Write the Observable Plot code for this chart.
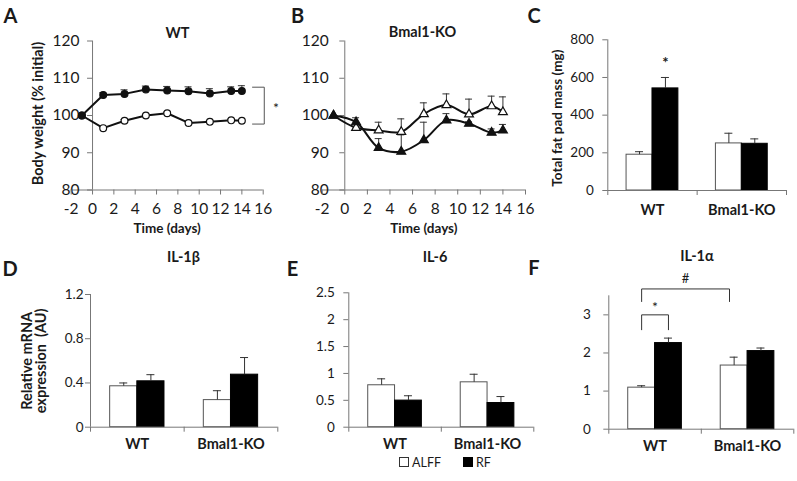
<!DOCTYPE html>
<html><head><meta charset="utf-8">
<script src="https://cdn.jsdelivr.net/npm/d3@7"></script>
<script src="https://cdn.jsdelivr.net/npm/@observablehq/plot@0.6"></script>
<style>
body{margin:0;background:#fff;}
#fig{position:relative;width:797px;height:481px;overflow:hidden;background:#fff;font-family:Lato,"DejaVu Sans",sans-serif;color:#1a1a1a;}
#fig svg{position:absolute;overflow:visible;}
.lbl{position:absolute;font-weight:bold;white-space:nowrap;transform:translate(-50%,-50%);line-height:1;}
.legend{position:absolute;left:399px;top:456px;font-size:12.5px;line-height:14px;white-space:nowrap;}
.sw{display:inline-block;width:8px;height:8px;border:1px solid #333;vertical-align:0px;margin-right:3px;}
</style></head><body><div id="fig"></div>
<script>
// ---- body weight time course (panels A, B) ----
const days = [-1, 1, 3, 5, 7, 9, 11, 13, 14];
const xTicks = [-2, 0, 2, 4, 6, 8, 10, 12, 14, 16];
const bwTicks = [80, 90, 100, 110, 120];
const wtALFF    = [100, 96.6, 98.6, 100.0, 100.6, 98.0, 98.3, 98.7, 98.6];
const wtALFFerr = [0, 0.3, 0.3, 0.3, 0.3, 0.3, 0.3, 0.3, 0.3];
const wtRF      = [100, 105.5, 105.8, 107.0, 106.7, 106.5, 105.9, 106.6, 106.6];
const wtRFerr   = [0, 0.6, 1.1, 0.9, 1.1, 1.2, 1.3, 1.1, 1.4];
const koALFF    = [100, 96.7, 96.0, 95.6, 100.4, 102.8, 100.3, 102.5, 100.9];
const koALFFerr = [0, 0.3, 2.2, 3.5, 3.0, 3.0, 4.1, 2.7, 4.1];
const koRF      = [100, 98.2, 91.3, 90.3, 93.4, 98.7, 97.8, 95.4, 96.0];
const koRFerr   = [0, 1.2, 2.5, 4.5, 4.8, 1.8, 0.5, 1.0, 1.6];
const sigA = [{x: 15, y: 107.6}, {x: 16.1, y: 107.6}, {x: 16.1, y: 97.7}, {x: 15, y: 97.7}];

// ---- bar panels (C-F) ----
const groups = ["WT", "Bmal1-KO"];
const diets = ["ALFF", "RF"];
const fatALFF = [190, 250], fatALFFerr = [16, 54];
const fatRF   = [542, 248], fatRFerr   = [58, 26];
const fatTicks = [0, 200, 400, 600, 800];
const il1bALFF = [0.37, 0.245], il1bALFFerr = [0.03, 0.085];
const il1bRF   = [0.415, 0.475], il1bRFerr  = [0.06, 0.155];
const il1bTicks = [0, 0.4, 0.8, 1.2];
const il6ALFF = [0.78, 0.835], il6ALFFerr = [0.12, 0.15];
const il6RF   = [0.495, 0.45], il6RFerr   = [0.09, 0.12];
const il6Ticks = [0, 0.5, 1, 1.5, 2, 2.5];
const il1aALFF = [1.09, 1.67], il1aALFFerr = [0.05, 0.22];
const il1aRF   = [2.26, 2.05], il1aRFerr   = [0.13, 0.08];
const il1aTicks = [0, 1, 2, 3];

const fig = document.getElementById("fig");
const axisC = "#777";
const FONT = "Lato, 'DejaVu Sans', sans-serif";

function place(svg, left, top) {
  svg.style.left = left + "px"; svg.style.top = top + "px";
  fig.appendChild(svg);
}

function linePanel(o) {
  const rows = (vals, errs, diet) => days.map((d, i) => ({d, v: vals[i], e: errs[i], diet}));
  const A = rows(o.alff, o.alffErr, "ALFF"), R = rows(o.rf, o.rfErr, "RF");
  const errRows = [...A, ...R].filter(r => r.e > 0);
  const svg = Plot.plot({
    width: o.width, height: o.height,
    marginLeft: o.mL, marginRight: o.mR, marginTop: o.mT, marginBottom: o.mB,
    style: {fontFamily: FONT, fontSize: "15px", color: "#1a1a1a", background: "transparent", overflow: "visible"},
    x: {domain: [xTicks[0], xTicks[xTicks.length - 1]], axis: null},
    y: {domain: [bwTicks[0], bwTicks[bwTicks.length - 1]], axis: null},
    marks: [
      Plot.ruleY([bwTicks[0]], {x1: xTicks[0], x2: xTicks[xTicks.length - 1], stroke: axisC}),
      Plot.ruleX([0], {y1: bwTicks[0], y2: bwTicks[bwTicks.length - 1], stroke: axisC}),
      Plot.ruleY(bwTicks, {x1: 0, x2: 0, insetLeft: -5, stroke: axisC}),
      Plot.text(bwTicks, {x: 0, y: d => d, text: d => String(d), textAnchor: "end", dx: -o.yPad, fontSize: 15.5, fill: "#1a1a1a"}),
      Plot.axisX({ticks: xTicks, tickFormat: d => String(d), tickSize: 5, tickPadding: 8, fontSize: 15.5, stroke: axisC, label: null}),
      Plot.ruleX(errRows, {x: "d", y1: "v", y2: r => r.v + r.e, stroke: "#333"}),
      Plot.ruleY(errRows, {x1: "d", x2: "d", y: r => r.v + r.e, insetLeft: -3.5, insetRight: -3.5, stroke: "#333"}),
      Plot.line(R, {x: "d", y: "v", stroke: "#111", strokeWidth: 2, curve: o.curve}),
      Plot.line(A, {x: "d", y: "v", stroke: "#111", strokeWidth: 2, curve: o.curve}),
      Plot.dot(A, {x: "d", y: "v", symbol: o.symbol, r: o.r, fill: "white", stroke: "#111", strokeWidth: 1.2}),
      Plot.dot(R, {x: "d", y: "v", symbol: o.symbol, r: o.r, fill: "#111", stroke: "#111", strokeWidth: 1.2}),
      ...(o.ylabel ? [Plot.text([o.ylabel], {text: d => d, frameAnchor: "left", textAnchor: "middle", lineAnchor: "middle", rotate: -90, dx: o.ylabelDx, dy: -2, fontWeight: "bold", fontSize: 14.5})] : []),
      Plot.text(["Time (days)"], {text: d => d, frameAnchor: "bottom", textAnchor: "middle", lineAnchor: "middle", dy: 38.5, fontWeight: "bold", fontSize: 13.5}),
      ...(o.extra || [])
    ]
  });
  place(svg, o.left, o.top);
}

function barPanel(o) {
  const rows = [];
  groups.forEach((g, i) => {
    rows.push({g, i, diet: diets[0], v: o.alff[i], e: o.alffErr[i]});
    rows.push({g, i, diet: diets[1], v: o.rf[i], e: o.rfErr[i]});
  });
  rows.forEach(r => { r.x1 = r.i + (r.diet === diets[0] ? 0.21 : 0.5); r.x2 = r.x1 + 0.29; r.xc = (r.x1 + r.x2) / 2; });
  const yMax = o.yMax;
  const svg = Plot.plot({
    width: o.width, height: o.height,
    marginLeft: o.mL, marginRight: o.mR, marginTop: o.mT, marginBottom: o.mB,
    style: {fontFamily: FONT, fontSize: "13.5px", color: "#1a1a1a", background: "transparent", overflow: "visible"},
    x: {domain: [0, groups.length], axis: null},
    y: {domain: [0, yMax], axis: null},
    marks: [
      Plot.rectY(rows.filter(r => r.diet === diets[0]), {x1: "x1", x2: "x2", y1: 0, y2: "v", fill: "white", stroke: "#555", strokeWidth: 1}),
      Plot.rectY(rows.filter(r => r.diet === diets[1]), {x1: "x1", x2: "x2", y1: 0, y2: "v", fill: "black", stroke: "black", strokeWidth: 1}),
      Plot.ruleX(rows, {x: "xc", y1: "v", y2: r => r.v + r.e, stroke: "#333"}),
      Plot.ruleY(rows, {x1: "xc", x2: "xc", y: r => r.v + r.e, insetLeft: -4, insetRight: -4, stroke: "#333"}),
      Plot.ruleX([0], {y1: 0, y2: yMax, stroke: axisC}),
      Plot.ruleY([0], {x1: 0, x2: groups.length, stroke: axisC}),
      Plot.axisY({ticks: o.ticks, tickFormat: d => String(d), tickSize: 5, tickPadding: o.yPad, fontSize: 13.5, stroke: axisC, label: null}),
      Plot.axisX({ticks: d3.range(groups.length + 1), tickFormat: () => "", tickSize: 5, stroke: axisC, label: null}),
      Plot.axisX({ticks: groups.map((g, i) => i + 0.5), tickFormat: d => groups[Math.floor(d)], tickSize: 0, tickPadding: o.xPad, fontSize: 14.5, fontWeight: "bold", label: null}),
      ...(o.ylabel ? [Plot.text([o.ylabel], {text: d => d, frameAnchor: "left", textAnchor: "middle", lineAnchor: "middle", rotate: -90, dx: o.ylabelDx, dy: o.ylabelDy || 0, fontWeight: "bold", fontSize: o.ylabelSize || 13.5, lineHeight: 0.95})] : []),
      ...(o.extra ? o.extra(rows) : [])
    ]
  });
  place(svg, o.left, o.top);
}

// Panel A
linePanel({left: 0, top: 0, width: 290, height: 235, mL: 70.7, mR: 27.3, mT: 40.5, mB: 45.5,
  alff: wtALFF, alffErr: wtALFFerr, rf: wtRF, rfErr: wtRFerr, symbol: "circle", r: 3.4, curve: "linear",
  yPad: 13, ylabel: "Body weight (% initial)", ylabelDx: -33,
  extra: [
    Plot.line(sigA, {x: "x", y: "y", stroke: "#555", strokeWidth: 1}),
    Plot.text(["*"], {text: d => d, x: sigA[1].x + 1.1, y: (sigA[0].y + sigA[3].y) / 2, fontSize: 14, dy: 3})
  ]});

// Panel B
linePanel({left: 260, top: 0, width: 280, height: 235, mL: 61.7, mR: 15, mT: 40.5, mB: 45.5,
  alff: koALFF, alffErr: koALFFerr, rf: koRF, rfErr: koRFerr, symbol: "triangle", r: 3.3, curve: "catmull-rom",
  yPad: 16, ylabel: "", ylabelDx: 0});

// Panel C
barPanel({left: 530, top: 0, width: 267, height: 235, mL: 77.3, mR: 11, mT: 39.3, mB: 45,
  alff: fatALFF, alffErr: fatALFFerr, rf: fatRF, rfErr: fatRFerr, yMax: 800, ticks: fatTicks, yPad: 9, xPad: 14,
  ylabel: "Total fat pad mass (mg)", ylabelDx: -49.8, ylabelDy: 3, ylabelSize: 13.5,
  extra: rows => [Plot.text(rows.filter(r => r.g === groups[0] && r.diet === diets[1]), {x: "xc", y: r => r.v + r.e, text: () => "*", dy: -14, fontSize: 15, fontWeight: "bold"})]
});

// Panel D
barPanel({left: 0, top: 235, width: 290, height: 246, mL: 90, mR: 12.7, mT: 59, mB: 54.3,
  alff: il1bALFF, alffErr: il1bALFFerr, rf: il1bRF, rfErr: il1bRFerr, yMax: 1.2, ticks: il1bTicks, yPad: 2, xPad: 12,
  ylabel: "Relative mRNA\nexpression  (AU)", ylabelDx: -56, ylabelSize: 14.5});

// Panel E
barPanel({left: 290, top: 235, width: 250, height: 246, mL: 58.3, mR: 6.7, mT: 57.3, mB: 54.3,
  alff: il6ALFF, alffErr: il6ALFFerr, rf: il6RF, rfErr: il6RFerr, yMax: 2.5, ticks: il6Ticks, yPad: 9, xPad: 12});

// Panel F
barPanel({left: 540, top: 235, width: 257, height: 246, mL: 68.3, mR: 3.7, mT: 60.3, mB: 52.3,
  alff: il1aALFF, alffErr: il1aALFFerr, rf: il1aRF, rfErr: il1aRFerr, yMax: 3.5, ticks: il1aTicks, yPad: 13, xPad: 12,
  extra: rows => {
    const wa = rows.find(r => r.g === groups[0] && r.diet === diets[0]);
    const wr = rows.find(r => r.g === groups[0] && r.diet === diets[1]);
    const ka = rows.find(r => r.g === groups[1] && r.diet === diets[0]);
    const b1 = [{x: wa.xc, y: 2.61}, {x: wa.xc, y: 3.0}, {x: wr.xc, y: 3.0}, {x: wr.xc, y: 2.61}];
    const b2 = [{x: wa.xc, y: 3.35}, {x: wa.xc, y: 3.68}, {x: ka.xc - 0.05, y: 3.68}, {x: ka.xc - 0.05, y: 3.35}];
    return [
      Plot.line(b1, {x: "x", y: "y", stroke: "#333", strokeWidth: 1}),
      Plot.line(b2, {x: "x", y: "y", stroke: "#333", strokeWidth: 1}),
      Plot.text(["*"], {text: d => d, x: (wa.xc + wr.xc) / 2, y: 3.0, dy: -7, fontSize: 14}),
      Plot.text(["#"], {text: d => d, x: (wa.xc + ka.xc - 0.05) / 2, y: 3.68, dy: -10, fontSize: 13})
    ];
  }});

// Panel letters, titles, legend (HTML text)
const labels = [
  {t: "A", x: 10.5, y: 15, s: 20}, {t: "B", x: 297.5, y: 15, s: 20}, {t: "C", x: 534, y: 15, s: 20},
  {t: "D", x: 10, y: 268, s: 20}, {t: "E", x: 292.5, y: 268, s: 20}, {t: "F", x: 534, y: 267, s: 20},
  {t: "WT", x: 177.5, y: 32.5, s: 14.5}, {t: "Bmal1-KO", x: 422.5, y: 32, s: 14.5},
  {t: "IL-1β", x: 183.5, y: 256.5, s: 14.5}, {t: "IL-6", x: 435, y: 256.5, s: 14.5}, {t: "IL-1α", x: 697, y: 256, s: 14.5}
];
labels.forEach(l => {
  const d = document.createElement("div");
  d.className = "lbl"; d.textContent = l.t;
  d.style.left = l.x + "px"; d.style.top = l.y + "px"; d.style.fontSize = l.s + "px";
  fig.appendChild(d);
});
const lg = document.createElement("div");
lg.className = "legend";
lg.innerHTML = `<span class="sw" style="background:#fff"></span>${diets[0]}<span style="display:inline-block;width:22px"></span><span class="sw" style="background:#000;border-color:#000"></span>${diets[1]}`;
fig.appendChild(lg);
</script></body></html>
